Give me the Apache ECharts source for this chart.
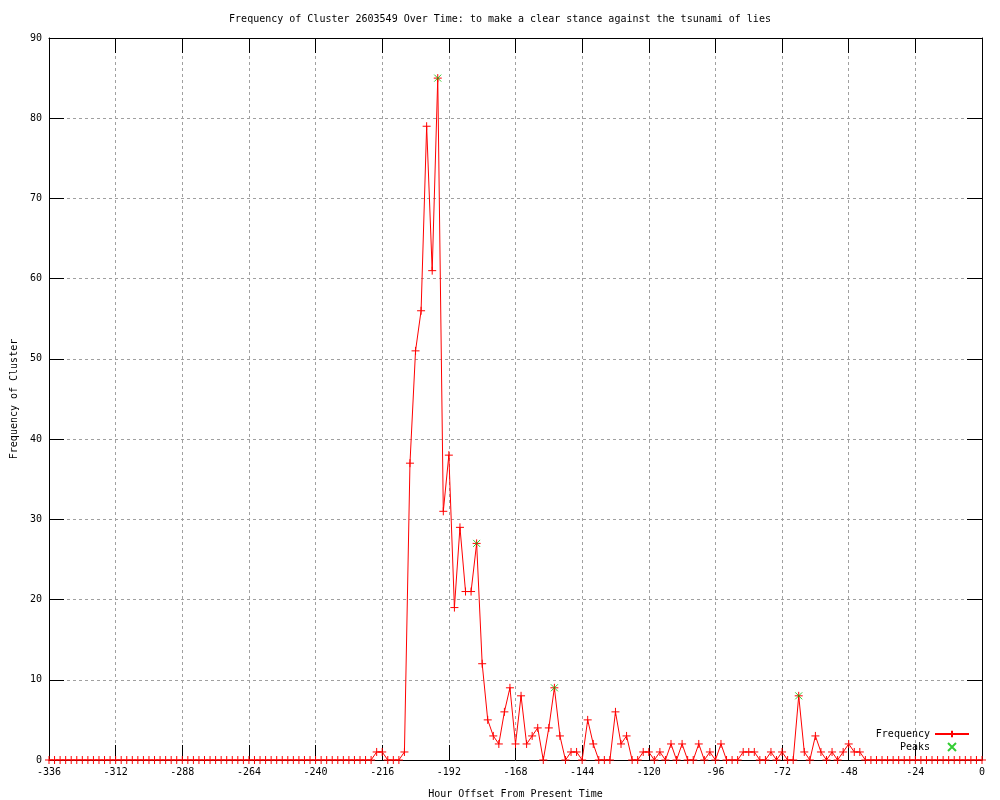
<!DOCTYPE html>
<html>
<head>
<meta charset="utf-8">
<script src="https://cdn.jsdelivr.net/npm/echarts@6/dist/echarts.min.js"></script>
<style>
html,body{margin:0;padding:0;background:#fff;}
#chart{width:1000px;height:800px;}
</style>
</head>
<body>
<div id="chart"></div>
<script>
var titleText = 'Frequency of Cluster 2603549 Over Time: to make a clear stance against the tsunami of lies';
var xAxisName = 'Hour Offset From Present Time';
var yAxisName = 'Frequency of Cluster';

var hours = [
-336,-334,-332,-330,-328,-326,-324,-322,-320,-318,
-316,-314,-312,-310,-308,-306,-304,-302,-300,-298,
-296,-294,-292,-290,-288,-286,-284,-282,-280,-278,
-276,-274,-272,-270,-268,-266,-264,-262,-260,-258,
-256,-254,-252,-250,-248,-246,-244,-242,-240,-238,
-236,-234,-232,-230,-228,-226,-224,-222,-220,-218,
-216,-214,-212,-210,-208,-206,-204,-202,-200,-198,
-196,-194,-192,-190,-188,-186,-184,-182,-180,-178,
-176,-174,-172,-170,-168,-166,-164,-162,-160,-158,
-156,-154,-152,-150,-148,-146,-144,-142,-140,-138,
-136,-134,-132,-130,-128,-126,-124,-122,-120,-118,
-116,-114,-112,-110,-108,-106,-104,-102,-100,-98,
-96,-94,-92,-90,-88,-86,-84,-82,-80,-78,
-76,-74,-72,-70,-68,-66,-64,-62,-60,-58,
-56,-54,-52,-50,-48,-46,-44,-42,-40,-38,
-36,-34,-32,-30,-28,-26,-24,-22,-20,-18,
-16,-14,-12,-10,-8,-6,-4,-2,0
];

var frequency = [
0,0,0,0,0,0,0,0,0,0,
0,0,0,0,0,0,0,0,0,0,
0,0,0,0,0,0,0,0,0,0,
0,0,0,0,0,0,0,0,0,0,
0,0,0,0,0,0,0,0,0,0,
0,0,0,0,0,0,0,0,0,1,
1,0,0,0,1,37,51,56,79,61,
85,31,38,19,29,21,21,27,12,5,
3,2,6,9,2,8,2,3,4,0,
4,9,3,0,1,1,0,5,2,0,
0,0,6,2,3,0,0,1,1,0,
1,0,2,0,2,0,0,2,0,1,
0,2,0,0,0,1,1,1,0,0,
1,0,1,0,0,8,1,0,3,1,
0,1,0,1,2,1,1,0,0,0,
0,0,0,0,0,0,0,0,0,0,
0,0,0,0,0,0,0,0,0
];

var peakHours = [-196, -182, -154, -66];
var peakValues = [85, 27, 9, 8];

var xMin = -336, xMax = 0, xStep = 24;
var yMin = 0, yMax = 90, yStep = 10;

var freqData = hours.map(function (h, i) { return [h, frequency[i]]; });
var peakData = peakHours.map(function (h, i) { return [h, peakValues[i]]; });

var FONT = 'DejaVu Sans Mono';
var plusPath = 'path://M5,0 L5,10 M0,5 L10,5';
var crossPath = 'path://M0,0 L10,10 M10,0 L0,10';
var peaksLegendIcon = 'path://M13,0 L21,8 M21,0 L13,8 M0,4 L0,4 M34,4 L34,4';

var gridLine = { show: true, lineStyle: { color: '#a0a0a0', type: [3, 3], width: 1 } };

var chart = echarts.init(document.getElementById('chart'), null, { renderer: 'canvas' });
chart.setOption({
  animation: false,
  backgroundColor: '#ffffff',
  title: {
    text: titleText,
    left: 'center',
    top: 9,
    textStyle: { fontFamily: FONT, fontSize: 10, fontWeight: 'normal', color: '#000' }
  },
  grid: { left: 49, right: 18, top: 38, bottom: 40, containLabel: false, outerBoundsMode: 'none' },
  xAxis: [{
    type: 'value', position: 'bottom',
    min: xMin, max: xMax, interval: xStep,
    name: xAxisName, nameLocation: 'middle', nameGap: 29,
    nameTextStyle: { fontFamily: FONT, fontSize: 10, color: '#000' },
    axisLine: { show: true, onZero: false, lineStyle: { color: '#000', width: 1 } },
    axisTick: { show: true, inside: true, length: 15, lineStyle: { color: '#000' } },
    axisLabel: { fontFamily: FONT, fontSize: 10, color: '#000', margin: 7, showMinLabel: true, showMaxLabel: true },
    splitLine: gridLine
  }, {
    type: 'value', position: 'top',
    min: xMin, max: xMax, interval: xStep,
    axisLine: { show: true, onZero: false, lineStyle: { color: '#000', width: 1 } },
    axisTick: { show: true, inside: true, length: 15, lineStyle: { color: '#000' } },
    axisLabel: { show: false },
    splitLine: { show: false }
  }],
  yAxis: [{
    type: 'value', position: 'left',
    min: yMin, max: yMax, interval: yStep,
    name: yAxisName, nameLocation: 'middle', nameGap: 30,
    nameTextStyle: { fontFamily: FONT, fontSize: 10, color: '#000' },
    axisLine: { show: true, onZero: false, lineStyle: { color: '#000', width: 1 } },
    axisTick: { show: true, inside: true, length: 15, lineStyle: { color: '#000' } },
    axisLabel: { fontFamily: FONT, fontSize: 10, color: '#000', margin: 7 },
    splitLine: gridLine
  }, {
    type: 'value', position: 'right',
    min: yMin, max: yMax, interval: yStep,
    axisLine: { show: true, onZero: false, lineStyle: { color: '#000', width: 1 } },
    axisTick: { show: true, inside: true, length: 15, lineStyle: { color: '#000' } },
    axisLabel: { show: false },
    splitLine: { show: false }
  }],
  legend: [{
    data: ['Frequency'],
    orient: 'vertical', right: 30, top: 729, padding: 0,
    align: 'right', itemWidth: 34, itemHeight: 8, itemGap: 5,
    textStyle: { fontFamily: FONT, fontSize: 10, color: '#000' }
  }, {
    data: [{ name: 'Peaks', icon: peaksLegendIcon }],
    orient: 'vertical', right: 30, top: 742, padding: 0,
    align: 'right', itemWidth: 34, itemHeight: 8, itemGap: 5,
    symbolKeepAspect: false,
    textStyle: { fontFamily: FONT, fontSize: 10, color: '#000' }
  }],
  series: [{
    name: 'Frequency',
    type: 'line',
    data: freqData,
    xAxisIndex: 0, yAxisIndex: 0,
    symbol: plusPath, symbolSize: 8,
    showSymbol: true, showAllSymbol: true,
    lineStyle: { color: '#ff0000', width: 1 },
    itemStyle: { color: '#ff0000', borderColor: '#ff0000', borderWidth: 1 },
    emphasis: { disabled: true },
    z: 3
  }, {
    name: 'Peaks',
    type: 'scatter',
    data: peakData,
    xAxisIndex: 0, yAxisIndex: 0,
    symbol: crossPath, symbolSize: 7,
    itemStyle: { color: '#00c000', borderColor: '#00c000', borderWidth: 1 },
    emphasis: { disabled: true },
    z: 4
  }]
});
</script>
</body>
</html>
